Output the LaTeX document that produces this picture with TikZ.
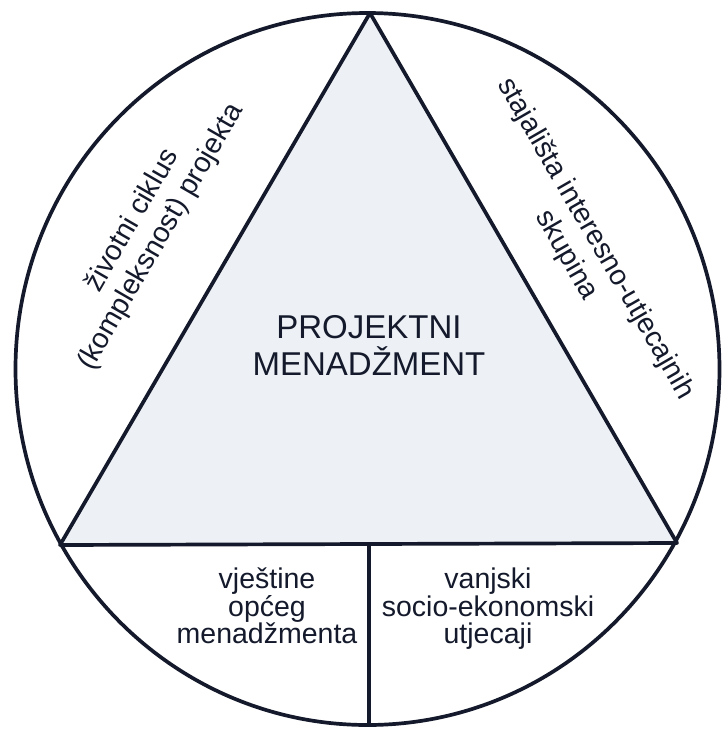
\documentclass[tikz,border=0pt]{standalone}
\usepackage{fontspec}
\setmainfont{Liberation Sans}
\definecolor{ink}{HTML}{141A2B}
\definecolor{trifill}{HTML}{EDF0F5}
\begin{document}
\begin{tikzpicture}[x=1pt,y=-1pt,
  edge/.style={draw=ink, line width=3.7pt, line join=round},
  bigtxt/.style={text=ink, font=\fontsize{33}{37}\selectfont, align=center, inner sep=0pt},
  midtxt/.style={text=ink, font=\fontsize{28.5}{33}\selectfont, align=center, inner sep=0pt},
  lowtxt/.style={text=ink, font=\fontsize{28.5}{27.5}\selectfont, align=center, inner sep=0pt}]
\useasboundingbox[fill=white] (0,0) rectangle (721,729);
% key points
\coordinate (C) at (367.5,369);
\coordinate (T) at (370,13);
\coordinate (L) at (60,545);
\coordinate (R) at (677,543);
\coordinate (M) at (369,544);
\coordinate (B) at (369,725);
% triangle
\fill[trifill] (T) -- (L) -- (R) -- cycle;
% circle
\draw[edge] (C) ellipse [x radius=352pt, y radius=356pt];
\draw[edge] (T) -- (L) -- (R) -- cycle;
\draw[edge] (M) -- (B);
% texts
\node[bigtxt] (pm) at (369,345.8) {PROJEKTNI\\MENADŽMENT};
\node[midtxt, rotate=60] (lc) at (147,229) {životni ciklus\\(kompleksnost) projekta};
\node[midtxt, rotate=-60] (si) at (581,247) {stajališta interesno-utjecajnih\\skupina};
\node[lowtxt] (vo) at (267,606) {vještine\\općeg\\menadžmenta};
\node[lowtxt] (vs) at (488,609) {vanjski\\socio-ekonomski\\utjecaji};
\end{tikzpicture}
\end{document}
